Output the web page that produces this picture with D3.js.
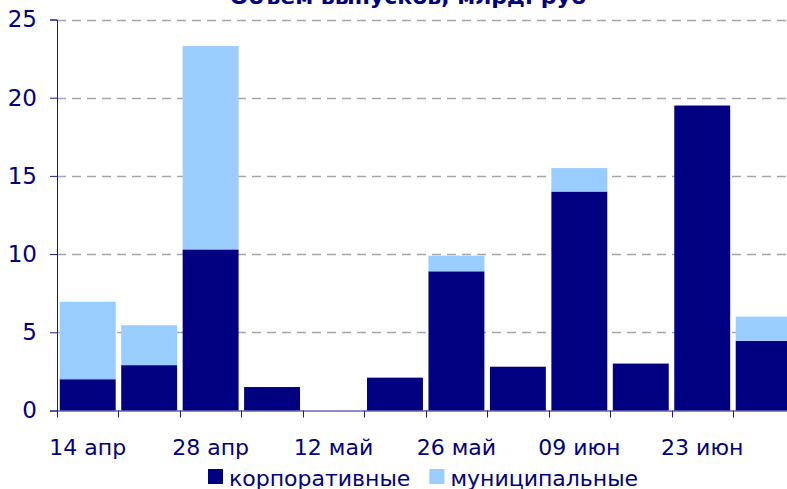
<!DOCTYPE html>
<html>
<head>
<meta charset="utf-8">
<script src="https://cdn.jsdelivr.net/npm/d3@7"></script>
<style>
    body { margin: 0; background: #fff; }
    text { font-family: Verdana, "DejaVu Sans", sans-serif; fill: #000080; }
</style>
</head>
<body>
<div id="chart"></div>
<script>
// weekly categories (only every second one is labelled)
let weeks = ["14 апр", "21 апр", "28 апр", "05 май", "12 май", "19 май",
    "26 май", "02 июн", "09 июн", "16 июн", "23 июн", "30 июн"];
let corporate = [2.0, 2.9, 10.3, 1.5, 0, 2.1, 8.9, 2.8, 14.0, 3.0, 19.5, 4.45];
let municipal = [4.95, 2.55, 13.0, 0, 0, 0, 1.0, 0, 1.5, 0, 0, 1.55];
let yTicks = [0, 5, 10, 15, 20, 25];
let seriesNames = ["корпоративные", "муниципальные"];
let colors = ["#000080", "#99ccff"];

const width = 787, height = 489;
const margin = {top: 19.5, left: 57, bottom: 78.5};
const step = 61.45;

let svg = d3.select("#chart").append("svg")
    .attr("width", width)
    .attr("height", height);

let data = weeks.map((w, i) => ({week: w, corp: corporate[i], muni: municipal[i]}));
let stack = d3.stack().keys(["corp", "muni"])(data);

let x = d3.scaleBand()
    .domain(weeks)
    .range([margin.left, margin.left + step * weeks.length])
    .paddingInner(0.09)
    .paddingOuter(0.045);

let y = d3.scaleLinear()
    .domain([0, 25])
    .range([height - margin.bottom, margin.top]);

// title (cut off at the top, as in the original)
svg.append("text")
    .attr("x", 408)
    .attr("y", 4)
    .attr("text-anchor", "middle")
    .attr("font-size", 22)
    .attr("font-weight", "bold")
    .text("Объем выпусков, млрд. руб");

// dashed gridlines
svg.append("g")
    .selectAll("line")
    .data(yTicks.filter(d => d > 0))
    .enter().append("line")
    .attr("x1", margin.left)
    .attr("x2", width)
    .attr("y1", d => Math.round(y(d)) + 0.5)
    .attr("y2", d => Math.round(y(d)) + 0.5)
    .attr("stroke", "#a6a6a6")
    .attr("stroke-width", 1.5)
    .attr("stroke-dasharray", "9,6");

// stacked bars
svg.append("g")
    .selectAll("g")
    .data(stack)
    .enter().append("g")
    .attr("fill", (d, i) => colors[i])
    .selectAll("rect")
    .data(d => d)
    .enter().append("rect")
    .attr("x", d => x(d.data.week))
    .attr("width", x.bandwidth())
    .attr("y", d => y(d[1]))
    .attr("height", d => y(d[0]) - y(d[1]));

// y axis
let yAxis = svg.append("g")
    .attr("transform", "translate(" + margin.left + ",0)")
    .call(d3.axisLeft(y).tickValues(yTicks).tickSize(7).tickPadding(13));
yAxis.select(".domain").attr("stroke", "#1a1a8c");
yAxis.selectAll(".tick line").attr("stroke", "#1a1a8c");
yAxis.selectAll("text")
    .attr("font-size", 23)
    .attr("fill", "#000080");

// x axis: ticks on category boundaries, labels every second week
let xBase = y(0);
let boundaries = weeks.map(w => x(w) - x.step() * x.paddingInner() / 2);
svg.append("line")
    .attr("x1", margin.left)
    .attr("x2", width)
    .attr("y1", xBase + 0.5)
    .attr("y2", xBase + 0.5)
    .attr("stroke", "#1a1a8c");
svg.append("g")
    .selectAll("line")
    .data(boundaries)
    .enter().append("line")
    .attr("x1", d => Math.round(d) + 0.5)
    .attr("x2", d => Math.round(d) + 0.5)
    .attr("y1", xBase)
    .attr("y2", xBase + 7)
    .attr("stroke", "#1a1a8c");
svg.append("g")
    .selectAll("text")
    .data(weeks.filter((w, i) => i % 2 === 0))
    .enter().append("text")
    .attr("x", d => x(d) + x.bandwidth() / 2)
    .attr("y", 455)
    .attr("text-anchor", "middle")
    .attr("font-size", 22)
    .text(d => d);

// legend
let legend = svg.append("g");
let lx = 208;
seriesNames.forEach(function (name, i) {
    legend.append("rect")
        .attr("x", lx)
        .attr("y", 469)
        .attr("width", 15)
        .attr("height", 15)
        .attr("fill", colors[i]);
    let t = legend.append("text")
        .attr("x", lx + 21)
        .attr("y", 485.5)
        .attr("font-size", 22)
        .text(name);
    lx += 21 + t.node().getComputedTextLength() + 19;
});
</script>
</body>
</html>
